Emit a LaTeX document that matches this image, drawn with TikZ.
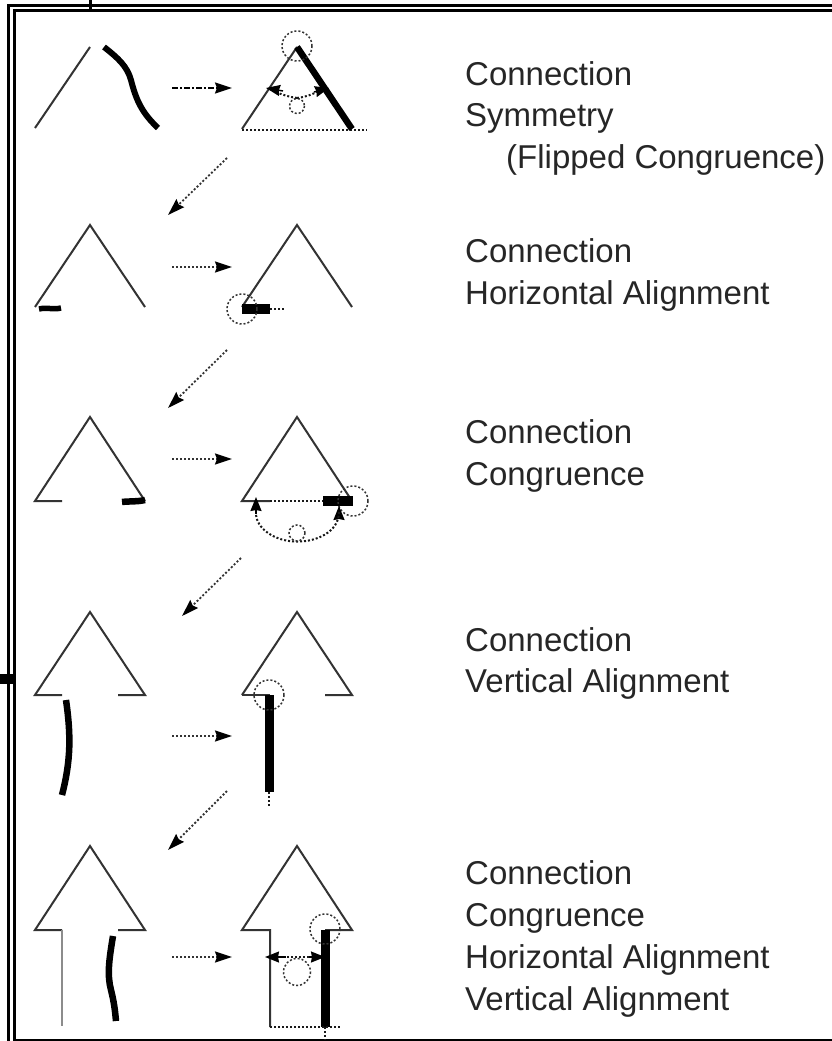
\documentclass[tikz,border=0pt]{standalone}
\usepackage{fontspec}
\setmainfont{Liberation Sans}
\usetikzlibrary{arrows.meta}
\tikzset{
 x=1pt,y=-1pt,
 thinline/.style={line width=2pt,line join=miter,black!80},
 heavy/.style={line width=6pt,line join=round},
 dots/.style={line width=2pt,dash pattern=on 2pt off 2pt,black!90},
 ring/.style={line width=1.5pt,dash pattern=on 2pt off 2pt,black!80},
 flowarrow/.style={line width=1.8pt,dash pattern=on 2pt off 2pt,black!80,-{Stealth[length=17pt,width=11pt,inset=2pt,black]}},
 tip/.style={line width=1.5pt,-{Stealth[length=14pt,width=11pt,inset=1pt,black]}},
 frameline/.style={line width=3pt},
 lab/.style={anchor=base west,inner sep=0pt,font=\fontsize{33pt}{33pt}\selectfont,text=black!85}
}
\begin{document}
\begin{tikzpicture}
\useasboundingbox (0,0) rectangle (832,1041);
\fill[white] (0,0) rectangle (832,1041);
% frame
\coordinate (fa) at (8.7,1041); \coordinate (fb) at (8.7,5.3); \coordinate (fc) at (832,5.3);
\coordinate (ga) at (14,1041); \coordinate (gb) at (14,10.3); \coordinate (gc) at (832,10.3);
\draw[frameline] (fa) -- (fb) -- (fc);
\draw[frameline] (ga) -- (gb) -- (gc);
\draw[line width=2.4pt] (14,1040) -- (832,1040);
\draw[frameline] (90,0) -- (90,9);
\fill (0,673.5) rectangle (13,684);
% row 1
\draw[thinline] (35,128) -- (90,47);
\draw[heavy] (104,47) .. controls (118,58) and (127,66) .. (131,80) .. controls (136,100) and (142,113) .. (158,128);
\draw[thinline] (297,47) -- (242,129);
\draw[dots] (242,130) -- (367,130);
\draw[line width=6.5pt] (297,47) -- (352,129);
\draw[ring] (297,46) circle (15);
\draw[ring] (297,106) circle (7.5);
\draw[dots] (297,98) .. controls (290,97) and (282,95) .. (274,91);
\draw[dots] (297,98) .. controls (305,97) and (312,95) .. (318,91);
\draw[tip] (283,91) -- (266,88);
\draw[tip] (314,92) -- (329,88);
\coordinate (h1s) at (172,88); \coordinate (h1e) at (232,88);
\draw[line width=1.8pt,dash pattern=on 6pt off 2pt on 2pt off 2pt,-{Stealth[length=17pt,width=11pt,inset=2pt,black]}] (h1s) -- (h1e);
\coordinate (d1s) at (227,158); \coordinate (d1e) at (168,215);
\draw[flowarrow] (d1s) -- (d1e);
% row 2
\draw[thinline] (35,307) -- (90,225) -- (145,307);
\draw[line width=5.5pt] (39,309) .. controls (48,307) and (52,310) .. (61,308);
\draw[thinline] (242,307) -- (297,225) -- (352,307);
\fill (242,303.5) rectangle (270,314);
\draw[dots] (270,309) -- (284,309);
\draw[ring] (242,309) circle (15);
\coordinate (h2s) at (172,267); \coordinate (h2e) at (232,267);
\draw[flowarrow] (h2s) -- (h2e);
\coordinate (d2s) at (227,350); \coordinate (d2e) at (168,408);
\draw[flowarrow] (d2s) -- (d2e);
% row 3
\draw[thinline] (62,501) -- (35,501) -- (90,417) -- (145,501);
\draw[line width=6.5pt] (122,502) .. controls (130,501) and (136,502) .. (145,500);
\draw[thinline] (270,501) -- (242,501) -- (297,417) -- (352,501);
\draw[dots] (270,501) -- (325,501);
\fill (323,496) rectangle (353,506);
\draw[ring] (353,501) circle (15);
\draw[tip] (256,514) -- (256,497);
\draw[tip] (339,518) -- (339,506);
\draw[dots] (256,515) .. controls (258,532) and (280,542) .. (297,541.5) .. controls (316,542) and (339,532) .. (339,512);
\draw[ring] (297,533) circle (8);
\coordinate (h3s) at (172,459); \coordinate (h3e) at (232,459);
\draw[flowarrow] (h3s) -- (h3e);
\coordinate (d3s) at (241,558); \coordinate (d3e) at (182,616);
\draw[flowarrow] (d3s) -- (d3e);
% row 4
\draw[thinline] (62,695) -- (35,695) -- (90,612) -- (145,695) -- (118,695);
\draw[line width=6.5pt] (66,700) .. controls (71,735) and (71,760) .. (62,795);
\draw[thinline] (242,695) -- (297,612) -- (352,695) -- (325,695);
\draw[thinline] (242,695) -- (270,695);
\fill (264.5,695) rectangle (274,792);
\draw[dots] (269,792) -- (269,806);
\draw[ring] (269,695) circle (15);
\coordinate (h4s) at (172,736); \coordinate (h4e) at (232,736);
\draw[flowarrow] (h4s) -- (h4e);
\coordinate (d4s) at (227,791); \coordinate (d4e) at (168,850);
\draw[flowarrow] (d4s) -- (d4e);
% row 5
\draw[thinline] (62,930) -- (35,930) -- (90,846) -- (145,930) -- (118,930);
\draw[line width=2pt,black!45] (62,930) -- (62,1026);
\draw[line width=6.5pt] (113,936) .. controls (109,960) and (107,975) .. (111,990) .. controls (114,1002) and (115,1010) .. (116,1021);
\draw[thinline] (270,1027) -- (270,930) -- (242,930) -- (297,846) -- (352,930) -- (325,930);
\fill (321,930) rectangle (329.5,1027);
\draw[dots] (270,1027) -- (340,1027);
\draw[dots] (325,1027) -- (325,1040);
\draw[ring] (325,929) circle (15);
\draw[ring] (297,972) circle (13.5);
\draw[dots] (283,957) -- (310,957);
\draw[tip] (286,957) -- (265,957);
\draw[tip] (309,957) -- (325,957);
\coordinate (h5s) at (172,957); \coordinate (h5e) at (232,957);
\draw[flowarrow] (h5s) -- (h5e);
% labels
\node[lab] (t1a) at (465,85) {Connection};
\node[lab] (t1b) at (465,126) {Symmetry};
\node[lab] (t1c) at (506,168) {(Flipped Congruence)};
\node[lab] (t2a) at (465,262) {Connection};
\node[lab] (t2b) at (465,304) {Horizontal Alignment};
\node[lab] (t3a) at (465,443) {Connection};
\node[lab] (t3b) at (465,485) {Congruence};
\node[lab] (t4a) at (465,651) {Connection};
\node[lab] (t4b) at (465,692) {Vertical Alignment};
\node[lab] (t5a) at (465,884) {Connection};
\node[lab] (t5b) at (465,926) {Congruence};
\node[lab] (t5c) at (465,968) {Horizontal Alignment};
\node[lab] (t5d) at (465,1010) {Vertical Alignment};
\end{tikzpicture}
\end{document}
